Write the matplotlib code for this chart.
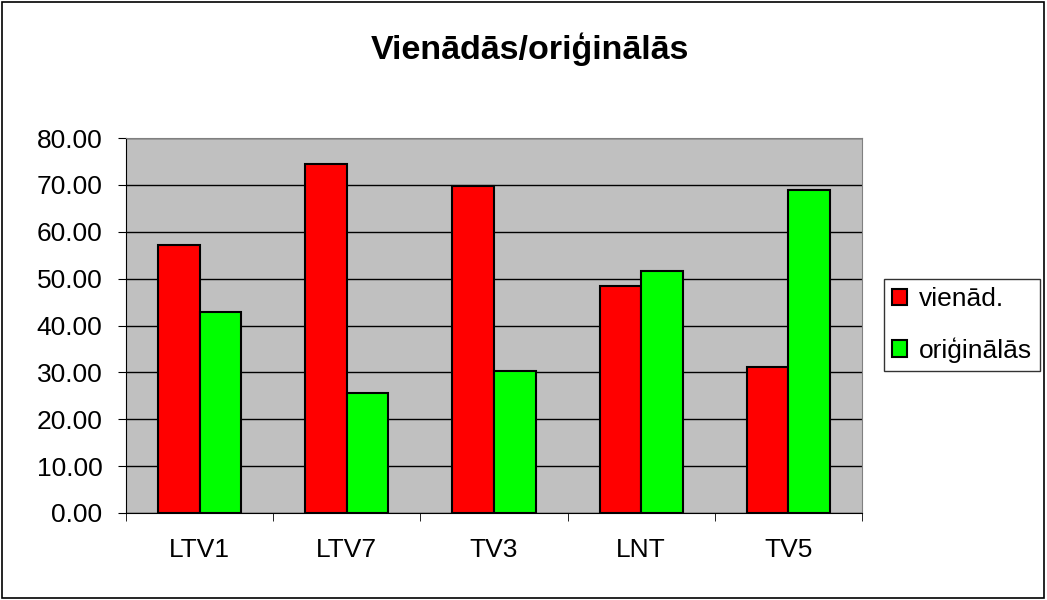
import numpy as np
import matplotlib.pyplot as plt
from matplotlib.patches import Rectangle

plt.rcParams['font.family'] = ['Liberation Sans', 'DejaVu Sans']

channels = ["LTV1", "LTV7", "TV3", "LNT", "TV5"]
vienad = [57.2, 74.5, 69.8, 48.4, 31.1]
originalas = [42.8, 25.5, 30.2, 51.6, 68.9]

fig = plt.figure(figsize=(10.47, 6), dpi=100)
fig.patches.append(Rectangle((0.002, 0.003), 0.995, 0.994, transform=fig.transFigure,
                             fill=False, edgecolor="black", lw=1.2))
ax = fig.add_axes([126 / 1047, 1 - 513 / 600, (862 - 126) / 1047, (513 - 138) / 600])

x = np.arange(len(channels))
w = 0.283
ax.bar(x - w / 2, vienad, w, color="#ff0000", edgecolor="black", lw=1.5, label="vienād.", zorder=3)
ax.bar(x + w / 2, originalas, w, color="#00ff00", edgecolor="black", lw=1.5, label="oriģinālās", zorder=3)

ax.set_facecolor("#c0c0c0")
ax.set_xlim(-0.5, len(channels) - 0.5)
ax.set_ylim(0, 80)
ax.set_yticks(np.arange(0, 81, 10))
ax.set_yticklabels([f"{v:.2f}" for v in np.arange(0, 81, 10)], fontsize=19)
ax.set_xticks(x)
ax.set_xticklabels(channels, fontsize=19)
ax.set_xticks(np.arange(-0.5, len(channels)), minor=True)
ax.tick_params(axis="x", which="major", length=0, pad=18)
ax.tick_params(axis="x", which="minor", length=6, direction="out")
ax.tick_params(axis="y", length=6, direction="out", pad=11)
ax.grid(axis="y", color="black", lw=1, zorder=1)
for s in ["top", "right"]:
    ax.spines[s].set_color("#808080")
ax.spines["left"].set_color("black")
ax.spines["bottom"].set_color("black")

fig.text(530 / 1047, 1 - 59 / 600, "Vienādās/oriģinālās", fontsize=24.5, fontweight="bold",
         ha="center", va="baseline")

leg = ax.legend(loc="center left", bbox_to_anchor=(884 / 1047, 1 - 325 / 600),
                bbox_transform=fig.transFigure, fontsize=19, frameon=True, fancybox=False,
                edgecolor="black", handlelength=0.58, handleheight=0.58, handletextpad=0.45,
                borderpad=0.3, labelspacing=1.0, borderaxespad=0)
leg.get_frame().set_linewidth(1)

fig.savefig("out.png", dpi=100)
